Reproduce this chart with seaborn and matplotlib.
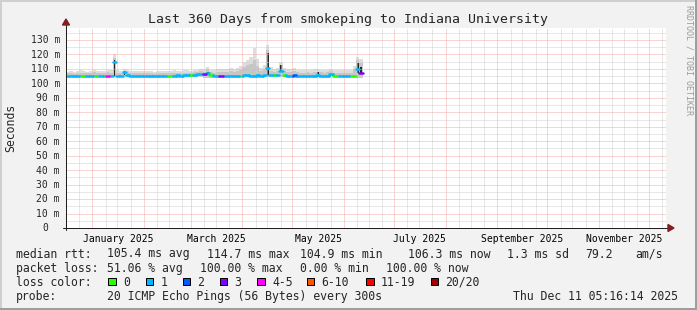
import numpy as np
import pandas as pd
import matplotlib
matplotlib.use("Agg")
import matplotlib.pyplot as plt
import matplotlib.transforms as mtransforms
from matplotlib.patches import Rectangle, Polygon
import seaborn as sns

# ------------------------------------------------------------------ data
start = pd.Timestamp("2024-12-16 05:16:14")
end = pd.Timestamp("2025-12-11 05:16:14")
step_days = 2

median_ms = [105.3, 105.2, 105.3, 105.4, 105.2, 105.1, 105.3, 105.2, 105.1, 105.2,
             105.3, 105.4, 105.3, 105.2, 114.7, 105.4, 105.3, 108.0, 105.5, 105.3,
             105.2, 105.3, 105.4, 105.3, 105.2, 105.3, 105.4, 105.3, 105.2, 105.1,
             105.2, 105.3, 105.4, 105.5, 105.4, 105.6, 105.7, 105.8, 106.0, 106.2,
             106.3, 106.6, 107.2, 105.6, 105.3, 105.4, 105.3, 105.2, 105.3, 105.4,
             105.3, 105.2, 105.4, 105.6, 105.5, 105.4, 105.3, 105.6, 105.4, 105.6,
             110.5, 105.8, 105.5, 105.6, 108.8, 105.7, 105.4, 105.2, 105.6, 105.3,
             105.2, 105.1, 105.2, 105.1, 105.2, 105.6, 105.2, 105.1, 105.2, 106.3,
             105.3, 105.2, 105.1, 105.2, 105.3, 105.1, 105.4, 109.7, 107.0]

loss_bucket = [1, 1, 1, 1, 0, 0, 1, 1, 0, 0,
               1, 0, 4, 1, 1, 1, 1, 1, 1, 1,
               1, 1, 1, 1, 1, 1, 1, 1, 1, 1,
               0, 0, 1, 1, 1, 1, 1, 0, 1, 1,
               1, 3, 1, 0, 1, 1, 3, 1, 1, 1,
               1, 1, 0, 1, 1, 1, 1, 1, 1, 1,
               1, 1, 0, 1, 1, 0, 1, 1, 2, 1,
               1, 1, 1, 1, 1, 1, 1, 1, 1, 1,
               0, 0, 1, 1, 1, 0, 0, 1, 3]

smoke_lo = [104.3, 104.3, 104.3, 104.3, 104.3, 104.0, 104.3, 104.3, 104.3, 104.3,
            104.3, 103.6, 103.6, 104.3, 104.3, 104.3, 104.3, 104.3, 104.3, 104.3,
            104.3, 104.3, 104.3, 104.3, 104.3, 104.0, 104.3, 104.3, 104.3, 104.3,
            104.3, 104.3, 104.3, 104.0, 104.3, 104.3, 104.3, 104.3, 104.3, 104.3,
            104.3, 103.8, 103.8, 103.8, 104.3, 104.3, 104.3, 104.3, 104.3, 104.3,
            104.3, 104.3, 104.3, 104.3, 104.3, 104.3, 104.3, 104.0, 104.3, 104.3,
            104.3, 104.3, 104.3, 104.3, 104.3, 104.3, 104.3, 104.3, 103.8, 103.8,
            104.3, 104.3, 104.3, 104.3, 104.3, 104.3, 104.3, 104.3, 104.3, 104.3,
            104.3, 104.3, 104.3, 104.3, 104.3, 104.3, 104.3, 104.0, 104.0]

smoke_mid = [107.0, 107.2, 106.8, 107.4, 107.5, 107.0, 106.9, 107.2, 107.6, 107.3,
             107.0, 107.4, 107.8, 107.5, 117.5, 107.4, 107.2, 108.8, 107.6, 107.1,
             106.9, 107.2, 107.0, 106.9, 107.1, 107.0, 106.8, 107.2, 107.3, 107.0,
             107.1, 107.2, 107.4, 107.2, 107.3, 107.5, 107.4, 107.3, 107.7, 107.9,
             108.3, 108.0, 110.0, 107.8, 107.5, 107.9, 108.2, 107.9, 108.0, 108.3,
             108.1, 108.4, 109.5, 111.5, 112.5, 113.5, 116.0, 112.0, 108.6, 109.5,
             123.0, 108.8, 108.2, 108.6, 113.0, 108.3, 107.8, 108.0, 108.5, 107.7,
             107.5, 107.3, 107.6, 107.4, 107.8, 108.2, 107.6, 107.3, 107.6, 108.4,
             107.5, 107.2, 107.4, 107.2, 107.3, 107.5, 110.0, 116.0, 114.0]

smoke_hi = [108.2, 108.5, 108.0, 108.8, 109.0, 108.5, 108.2, 108.6, 109.2, 108.8,
            108.4, 108.9, 109.3, 109.0, 120.0, 109.0, 108.8, 110.0, 109.2, 108.6,
            108.4, 108.8, 108.5, 108.3, 108.6, 108.4, 108.2, 108.7, 108.9, 108.5,
            108.6, 108.8, 109.0, 108.7, 108.9, 109.2, 109.0, 108.8, 109.4, 109.6,
            110.2, 109.8, 111.6, 109.6, 109.4, 109.8, 110.2, 109.9, 110.0, 110.4,
            110.2, 110.6, 112.0, 115.0, 116.2, 118.5, 124.5, 117.0, 110.8, 112.5,
            126.5, 111.0, 110.2, 110.8, 115.0, 110.4, 109.8, 110.0, 110.6, 109.6,
            109.4, 109.2, 109.6, 109.3, 109.8, 110.0, 109.5, 109.2, 109.6, 110.2,
            109.4, 109.0, 109.3, 109.0, 109.2, 109.4, 112.0, 118.5, 117.0]

core_index = [14, 17, 42, 60, 64, 75, 87, 88]
core_lo = [105.2, 106.0, 106.8, 105.8, 108.5, 106.8, 107.5, 107.0]
core_hi = [116.0, 108.6, 108.0, 121.0, 113.0, 108.2, 114.0, 111.0]

loss_labels = ["0", "1", "2", "3", "4-5", "6-10", "11-19", "20/20"]
loss_colors = ["#26ff00", "#00b8ff", "#0059ff", "#7e00ff",
               "#ff00ff", "#ff5500", "#ff0000", "#a00000"]

y_major = list(range(0, 140, 10))
y_minor = list(range(5, 140, 10))
y_labels = ["0"] + [f"{v} m" for v in range(10, 140, 10)]
x_label_months = ["2025-01-01", "2025-03-01", "2025-05-01",
                  "2025-07-01", "2025-09-01", "2025-11-01"]
x_label_texts = ["January 2025", "March 2025", "May 2025",
                 "July 2025", "September 2025", "November 2025"]

title = "Last 360 Days from smokeping to Indiana University"
ylabel = "Seconds"
legend_rtt = [("median rtt:", 16), ("105.4 ms avg", 107.3), ("114.7 ms max", 207.3),
              ("104.9 ms min", 300), ("106.3 ms now", 407.7), ("1.3 ms sd", 506.7),
              ("79.2", 585), ("am/s", 635)]
legend_loss = [("packet loss:", 16), ("51.06 % avg", 107.3), ("100.00 % max", 200),
               ("0.00 % min", 300), ("100.00 % now", 386)]
probe_text = "20 ICMP Echo Pings (56 Bytes) every 300s"
stamp_text = "Thu Dec 11 05:16:14 2025"

# ------------------------------------------------------------------ style
sns.set_style("white")
plt.rcParams["font.family"] = ["DejaVu Sans Mono"]

W, H = 697, 310
BACK = "#f2f2f2"
GRID = "#d0d0d0"
MGRID = "#f2aaaa"
AXIS = "#1f1f1f"
ARROW = "#801f1f"

fig = plt.figure(figsize=(W / 100, H / 100), dpi=100)
fig.patch.set_facecolor(BACK)
ax = fig.add_axes([66 / W, (H - 228) / H, 600 / W, 200 / H])
ax.set_facecolor("white")
for s in ax.spines.values():
    s.set_visible(False)

n = len(median_ms)
times = start + pd.to_timedelta(step_days * np.arange(n) + step_days / 2, unit="D")
half = pd.Timedelta(days=step_days / 2)
edges = list(times - half) + [times[-1] + half]

def ext(a):
    return list(a) + [a[-1]]

# smoke
ax.fill_between(edges, ext(smoke_lo), ext(smoke_hi), step="post",
                color="#dddddd", lw=0, zorder=1)
ax.fill_between(edges, ext(smoke_lo), ext(smoke_mid), step="post",
                color="#c6c6c6", lw=0, zorder=1.1)
ax.bar([times[i] for i in core_index],
       [h - l for l, h in zip(core_lo, core_hi)],
       bottom=core_lo, width=1.0, color="#262626", lw=0, zorder=1.2)

ax.set_xlim(start, end)
ax.set_ylim(0, 138.3)

# grid
months = pd.date_range("2025-01-01", "2025-12-01", freq="MS")
minor_days = []
for m in pd.date_range("2024-12-01", "2025-12-01", freq="MS"):
    for d in (9, 16, 24):
        t = m + pd.Timedelta(days=d - 1)
        if start < t < end:
            minor_days.append(t)
for t in minor_days:
    ax.axvline(t, color=GRID, lw=0.72, ls=(0, (1, 1)), zorder=2)
for v in y_minor:
    ax.axhline(v, color=GRID, lw=0.72, ls=(0, (1, 1)), zorder=2)
for t in months:
    ax.axvline(t, color=MGRID, lw=0.72, ls=(0, (1, 1)), zorder=2.1)
for v in y_major[1:]:
    ax.axhline(v, color=MGRID, lw=0.72, ls=(0, (1, 1)), zorder=2.1)

# median line, coloured by loss
rows = []
for i in range(n):
    tl, tr = times[i] - half, times[i] + half
    if i > 0 and abs(median_ms[i] - median_ms[i - 1]) < 2.0:
        rows.append((tl, median_ms[i - 1], i, loss_bucket[i]))
    rows.append((tl, median_ms[i], i, loss_bucket[i]))
    rows.append((tr, median_ms[i], i, loss_bucket[i]))
seg = pd.DataFrame(rows, columns=["time", "rtt", "seg", "loss"])
sns.lineplot(data=seg, x="time", y="rtt", hue="loss", units="seg",
             estimator=None, sort=False,
             palette={k: c for k, c in enumerate(loss_colors)},
             legend=False, lw=1.8, ax=ax, zorder=3)
ax.set_xlabel("")
ax.set_ylabel("")

# ticks
label_pos = []
for m in x_label_months:
    m0 = pd.Timestamp(m)
    m1 = m0 + pd.offsets.MonthBegin(1)
    label_pos.append(m0 + (m1 - m0) / 2)
ax.set_xticks(label_pos)
ax.set_xticklabels(x_label_texts, fontsize=7)
ax.set_xticks(months, minor=True)
ax.tick_params(axis="x", which="major", length=0, pad=4.0, labelsize=7, colors="black")
ax.tick_params(axis="x", which="minor", length=2.2, width=0.72, color=MGRID, direction="out")
ax.set_yticks(y_major)
ax.tick_params(axis="y", which="major", length=2.2, width=0.72, color=MGRID,
               direction="out", labelleft=False)

ytrans = ax.get_yaxis_transform()
for v, lab in zip(y_major, y_labels):
    dx = -6 if lab != "0" else -17.8
    tr = mtransforms.offset_copy(ytrans, fig=fig, x=dx, y=-3.4, units="dots")
    ax.text(0, v, lab, transform=tr, ha="right", va="baseline", fontsize=7)

# axes lines and arrows
ax.plot([-3 / 600, 602 / 600], [0, 0], color=AXIS, lw=0.72,
        transform=ax.transAxes, clip_on=False, zorder=5)
ax.plot([0, 0], [-2 / 200, 203 / 200], color=AXIS, lw=0.72,
        transform=ax.transAxes, clip_on=False, zorder=5)
ax.add_patch(Polygon([[602 / 600, 3.5 / 200], [608 / 600, 0], [602 / 600, -3.5 / 200]],
                     closed=True, color=ARROW, transform=ax.transAxes, clip_on=False, zorder=6))
ax.add_patch(Polygon([[-3.5 / 600, 203 / 200], [0, 209 / 200], [3.5 / 600, 203 / 200]],
                     closed=True, color=ARROW, transform=ax.transAxes, clip_on=False, zorder=6))

# ------------------------------------------------------------------ texts
def ftext(x, y, s, **kw):
    fig.text(x / W, 1 - y / H, s, **kw)

ftext(347.5, 23, title, ha="center", va="baseline", fontsize=9.5)
ftext(10.5, 128, ylabel, ha="center", va="center", rotation=90, fontsize=8.3)
ftext(688.5, 5, "RRDTOOL / TOBI OETIKER", ha="center", va="top", rotation=270,
      fontsize=6, color="#9a9a9a")

base = [257.5, 271.7, 285.9, 300.1]
for s, x in legend_rtt:
    ftext(x, base[0], s, ha="left", va="baseline", fontsize=8.3)
for s, x in legend_loss:
    ftext(x, base[1], s, ha="left", va="baseline", fontsize=8.3)
ftext(16, base[2], "loss color:", ha="left", va="baseline", fontsize=8.3)
box_x = [108.3, 145.7, 182.7, 220.0, 257.3, 306.7, 366.0, 430.7]
for bx, lab, col in zip(box_x, loss_labels, loss_colors):
    fig.add_artist(Rectangle((bx / W, 1 - 285.3 / H), 7.5 / W, 7.5 / H,
                             transform=fig.transFigure, facecolor=col,
                             edgecolor="black", lw=0.72))
    ftext(bx + 14.7, base[2], lab, ha="left", va="baseline", fontsize=8.3)
ftext(16, base[3], "probe:", ha="left", va="baseline", fontsize=8.3)
ftext(107.3, base[3], probe_text, ha="left", va="baseline", fontsize=8.3)
ftext(513.3, base[3], stamp_text, ha="left", va="baseline", fontsize=8.3)

# frame
fig.add_artist(Rectangle((0, 1 - 2 / H), 1, 2 / H, transform=fig.transFigure,
                         color="#cfcfcf", lw=0))
fig.add_artist(Rectangle((0, 0), 2 / W, 1, transform=fig.transFigure,
                         color="#cfcfcf", lw=0))
fig.add_artist(Rectangle((0, 0), 1, 2 / H, transform=fig.transFigure,
                         color="#9e9e9e", lw=0))
fig.add_artist(Rectangle((1 - 2 / W, 0), 2 / W, 1, transform=fig.transFigure,
                         color="#9e9e9e", lw=0))

fig.savefig("out.png", dpi=100, facecolor=BACK)
